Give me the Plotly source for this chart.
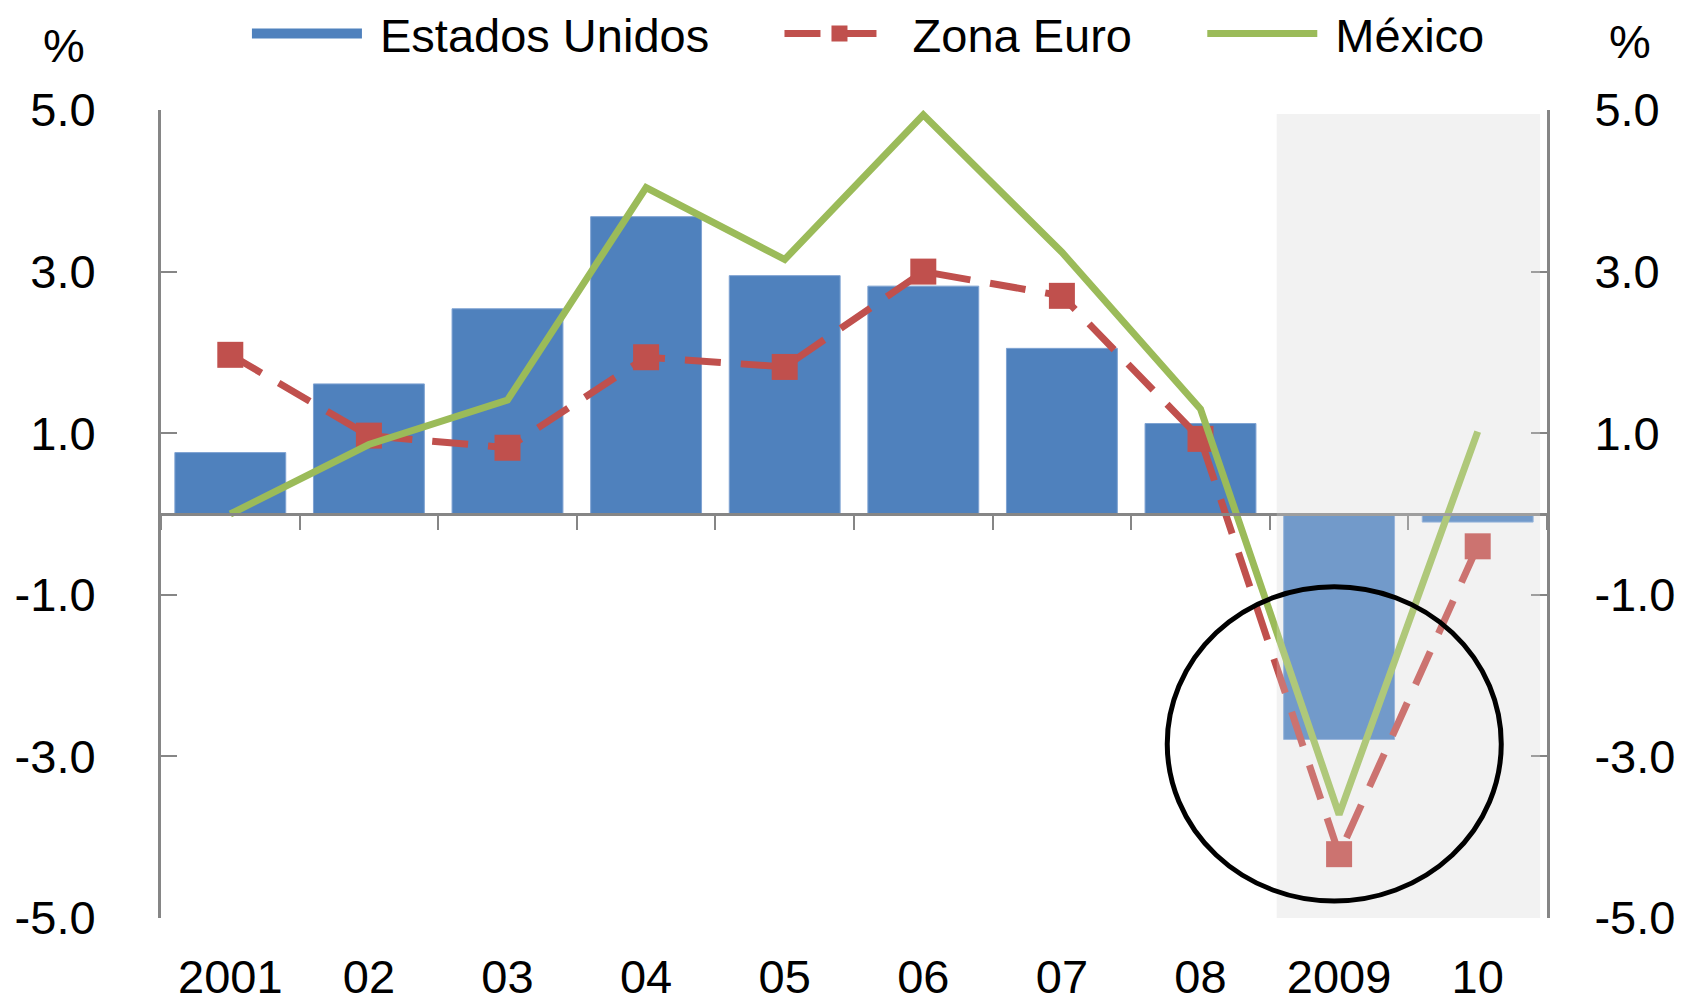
import plotly.graph_objects as go

# ---- data ----
categories = ["2001", "02", "03", "04", "05", "06", "07", "08", "2009", "10"]
estados_unidos = [0.76, 1.61, 2.54, 3.68, 2.95, 2.82, 2.05, 1.12, -2.79, -0.10]
zona_euro = [1.97, 0.97, 0.82, 1.94, 1.82, 3.00, 2.70, 0.93, -4.21, -0.40]
mexico = [0.00, 0.86, 1.41, 4.04, 3.15, 4.94, 3.24, 1.30, -3.72, 1.02]
y_ticks = [-5, -3, -1, 1, 3, 5]
y_tick_labels = ["-5.0", "-3.0", "-1.0", "1.0", "3.0", "5.0"]
y_range = [-5, 5]

# forecast shading (category index space) and highlight ellipse
forecast_x = [7.55, 9.45]
highlight_x = [6.76, 9.17]
highlight_y = [-4.79, -0.90]

BLUE = "#4f81bd"
RED = "#c0504d"
GREEN = "#9bbb59"
AXIS = "#868686"
FONT = "Liberation Sans, Arial, sans-serif"
FS = 47
NB = "\u00a0"

fig = go.Figure()

# legend proxy for the bars (wide rectangle like the reference)
fig.add_trace(go.Scatter(
    x=[None], y=[None], mode="lines", name=NB + "Estados Unidos" + NB * 5,
    line=dict(color=BLUE, width=18), legendgroup="us", hoverinfo="skip",
))
fig.add_trace(go.Bar(
    x=categories, y=estados_unidos, name="Estados Unidos",
    marker=dict(color=BLUE, line=dict(color="#7fa3d2", width=1)),
    legendgroup="us", showlegend=False,
))
fig.add_trace(go.Scatter(
    x=categories, y=zona_euro, name=NB + "Zona Euro" + NB * 5, mode="lines+markers",
    line=dict(color=RED, width=7, dash="36px,20px"),
    marker=dict(symbol="square", size=26, color=RED),
))
fig.add_trace(go.Scatter(
    x=categories, y=mexico, name=NB + "México", mode="lines",
    line=dict(color=GREEN, width=7),
))
# helper trace for the zero-line axis and right axis
fig.add_trace(go.Scatter(
    x=categories, y=[None] * len(categories), xaxis="x2", yaxis="y2",
    showlegend=False, hoverinfo="skip", mode="lines",
))

zero_pos = (0 - y_range[0]) / (y_range[1] - y_range[0])

yaxis_common = dict(
    range=y_range, tickvals=y_ticks, ticktext=y_tick_labels,
    ticks="inside", ticklen=16, tickwidth=2, tickcolor=AXIS,
    showline=True, linecolor=AXIS, linewidth=3,
    showgrid=False, zeroline=False, automargin=False,
    tickfont=dict(family=FONT, size=FS, color="black"),
)

fig.update_layout(
    template="none",
    width=1684, height=1005,
    margin=dict(l=161, r=137, t=110, b=87, autoexpand=False),
    paper_bgcolor="white", plot_bgcolor="rgba(0,0,0,0)",
    bargap=0.2,
    font=dict(family=FONT, size=FS, color="black"),
    xaxis=dict(
        type="category", range=[-0.5, len(categories) - 0.5],
        showline=False, ticks="", showgrid=False, zeroline=False,
        tickfont=dict(family=FONT, size=FS, color="black"),
        ticklabelstandoff=27, automargin=False,
    ),
    xaxis2=dict(
        type="category", overlaying="x", matches="x", anchor="free",
        position=zero_pos, showticklabels=False,
        ticks="outside", tickson="boundaries", ticklen=14, tickwidth=2,
        tickcolor=AXIS, showline=True, linecolor=AXIS, linewidth=3,
        showgrid=False, zeroline=False,
    ),
    yaxis=dict(side="left", ticklabelstandoff=53, **yaxis_common),
    yaxis2=dict(side="right", overlaying="y", matches="y", ticklabelstandoff=35,
                **yaxis_common),
    legend=dict(
        orientation="h", x=0.062, xanchor="left", y=1.094, yanchor="middle",
        font=dict(family=FONT, size=FS, color="black"),
        itemwidth=110, bgcolor="rgba(0,0,0,0)",
    ),
    showlegend=True,
)

shapes = [
    dict(type="rect", xref="x", yref="y", layer="below",
         x0=forecast_x[0], x1=forecast_x[1], y0=y_range[0] - 0.05, y1=y_range[1] - 0.05,
         fillcolor="#efefef", line=dict(width=0)),
    dict(type="rect", xref="x", yref="y", layer="above",
         x0=forecast_x[0], x1=forecast_x[1], y0=y_range[0] - 0.05, y1=y_range[1] - 0.05,
         fillcolor="white", opacity=0.2, line=dict(width=0)),
    dict(type="circle", xref="x", yref="y", layer="above",
         x0=highlight_x[0], x1=highlight_x[1], y0=highlight_y[0], y1=highlight_y[1],
         line=dict(color="black", width=5)),
]
fig.update_layout(shapes=shapes)

fig.add_annotation(text="%", xref="paper", yref="paper", x=-0.070, y=1.080,
                   xanchor="center", yanchor="middle", showarrow=False,
                   font=dict(family=FONT, size=FS, color="black"))
fig.add_annotation(text="%", xref="paper", yref="paper", x=1.060, y=1.085,
                   xanchor="center", yanchor="middle", showarrow=False,
                   font=dict(family=FONT, size=FS, color="black"))

fig.write_html("out.html", config={"displayModeBar": False},
               post_script="document.body.style.margin='0';")
